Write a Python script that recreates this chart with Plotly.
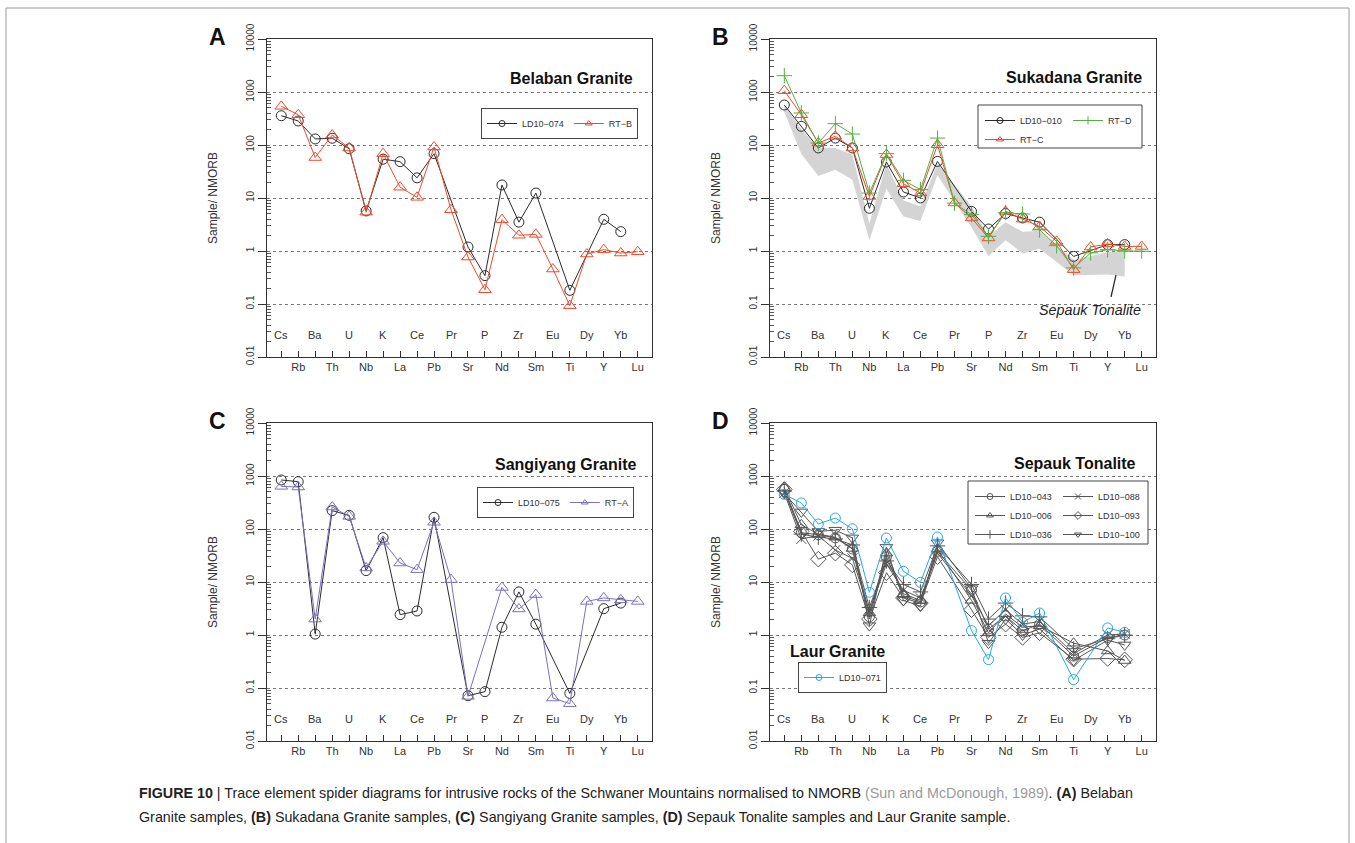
import plotly.graph_objects as go

W, H = 1355, 843
FONT = "Liberation Sans, Arial, sans-serif"

# ---------------- data ----------------
ELEMENTS = ["Cs", "Rb", "Ba", "Th", "U", "Nb", "K", "La", "Ce", "Pb", "Pr",
            "Sr", "P", "Nd", "Zr", "Sm", "Eu", "Ti", "Dy", "Y", "Yb", "Lu"]
N = None

# Panel A - Belaban Granite
A_LD10_074 = [357, 284, 130, 134, 85, 5.7, 54, 48.5, 24, 68.6, N, 1.19, 0.343, 17.6, 3.5, 12.4, N, 0.181, N, 3.96, 2.32, N]
A_RT_B = [537, 373, 58, 154, 88, 5.4, 68.6, 16, 10.3, 91.6, 6.0, 0.77, 0.186, 3.9, 1.98, 2.06, 0.457, 0.093, 0.877, 1.06, 0.916, 0.97]

# Panel B - Sukadana Granite
B_LD10_010 = [569, 225, 88, 135, 88, 6.4, 47.8, 13, 10, 49, N, 5.6, 2.6, 5.1, 4.2, 3.5, N, 0.79, N, 1.32, 1.32, N]
B_RT_C = [1060, 373, 109, 146, 88, 10.7, 66, 18.6, 12.4, 101, 8.05, 4.2, 1.76, 5.6, 4.0, 2.9, 1.52, 0.445, 1.19, 1.36, 1.22, 1.22]
B_RT_D = [2030, 402, 109, 253, 161, 12.4, 68.6, 21.5, 14.4, 135, 8.0, 4.85, 1.89, 5.3, 5.0, 2.5, 1.26, 0.48, 0.92, 1.06, 1.0, 0.99]
# Sepauk Tonalite field (grey envelope)
B_SEPAUK_MAX = [560, 200, 88, 88, 66, 3.3, 45, 9, 7, 45, N, 7, 1.9, 3.5, 2.3, 2.4, N, 0.68, N, 0.95, 1.0, N]
B_SEPAUK_MIN = [420, 68, 26, 34, 22, 1.6, 15, 4.5, 3.7, 27, N, 2.8, 0.8, 1.6, 0.9, 1.1, N, 0.35, N, 0.36, 0.33, N]

# Panel C - Sangiyang Granite
C_LD10_075 = [841, 782, 1.04, 222, 181, 16.4, 68.6, 2.42, 2.84, 166, N, 0.0716, 0.0853, 1.4, 6.5, 1.6, N, 0.079, N, 3.14, 4.0, N]
C_RT_A = [638, 620, 2.0, 260, 173, 18.4, 58.5, 22.8, 17.1, 134, 11.1, 0.0695, N, 7.9, 3.1, 5.8, 0.0647, 0.0506, 4.3, 5.0, 4.6, 4.3]

# Panel D - Sepauk Tonalite and Laur Granite
D_LD10_043 = [560, 85, 78, 68, 42, 2.2, 30, 5.5, 4.2, 38, N, 7.0, 1.3, 2.3, 1.2, 1.6, N, 0.40, N, 0.90, 1.0, N]
D_LD10_006 = [600, 120, 80, 70, 43, 2.6, 35, 6.0, 4.5, 42, N, 4.5, 1.1, 2.5, 1.4, 1.5, N, 0.70, N, 0.50, 0.33, N]
D_LD10_036 = [520, 80, 70, 65, 50, 3.3, 25, 9.0, 6.5, 48, N, 9.0, 2.0, 4.0, 2.3, 2.2, N, 0.55, N, 0.85, 1.0, N]
D_LD10_088 = [480, 65, 75, 40, 28, 2.8, 22, 7.0, 5.0, 35, N, 5.5, 1.5, 3.0, 1.6, 1.8, N, 0.45, N, 1.0, 1.05, N]
D_LD10_093 = [560, 90, 27, 35, 21, 2.0, 15, 5.0, 4.0, 30, N, 3.0, 0.9, 1.6, 0.9, 1.1, N, 0.35, N, 0.36, 0.34, N]
D_LD10_100 = [470, 210, 90, 95, 68, 1.5, 45, 4.5, 3.5, 55, N, 7.5, 0.7, 2.0, 1.0, 1.3, N, 0.33, N, 0.80, 0.65, N]
D_LD10_071 = [450, 310, 124, 161, 101, 6.4, 67.6, 15.9, 9.86, 70.6, N, 1.21, 0.343, 5.0, 1.73, 2.6, N, 0.144, N, 1.36, 1.12, N]

Y_TICKS = [0.01, 0.1, 1, 10, 100, 1000, 10000]
Y_TICK_TEXT = ["0.01", "0.1", "1", "10", "100", "1000", "10000"]

# ---------------- colours ----------------
BLACK = "#2b2b2b"
RED = "#EE4A2C"
GREEN = "#55B13E"
PURPLE = "#7A70C0"
BLUE = "#2AA8E0"
GREY = "#555555"


def fx(p):
    return p / W


def fy(p):
    return 1 - p / H


# panel: (axis suffix, letter, x0, x1, y0, y1 in px)
PANELS = [
    ("", "A", 267, 652, 39, 357),
    ("2", "B", 770, 1156, 39, 357),
    ("3", "C", 267, 652, 423, 741),
    ("4", "D", 770, 1156, 423, 741),
]

fig = go.Figure()
XS = list(range(len(ELEMENTS)))


def add_series(sfx, vals, name, color, symbol, size, legend):
    fig.add_trace(go.Scatter(
        x=XS, y=vals, mode="lines+markers", connectgaps=True,
        line=dict(color=color, width=1),
        marker=dict(symbol=symbol, size=size, color=color, line=dict(color=color, width=1)),
        xaxis="x" + sfx, yaxis="y" + sfx, showlegend=False, hoverinfo="skip"))
    fig.add_trace(go.Scatter(
        x=[None], y=[None], mode="lines+markers", name=name,
        line=dict(color=color, width=1),
        marker=dict(symbol=symbol, size=6, color=color, line=dict(color=color, width=1)),
        xaxis="x" + sfx, yaxis="y" + sfx, showlegend=True, legend=legend))


# grey Sepauk field in panel B
band_idx = [i for i, v in enumerate(B_SEPAUK_MAX) if v is not None]
band_x = band_idx + band_idx[::-1]
band_y = [B_SEPAUK_MAX[i] for i in band_idx] + [B_SEPAUK_MIN[i] for i in band_idx[::-1]]
fig.add_trace(go.Scatter(x=band_x, y=band_y, mode="lines", fill="toself",
                         fillcolor="#d4d4d4", line=dict(width=0, color="#d4d4d4"),
                         xaxis="x2", yaxis="y2", showlegend=False, hoverinfo="skip"))

add_series("", A_LD10_074, "LD10\u2212074", BLACK, "circle-open", 10, "legend")
add_series("", A_RT_B, "RT\u2212B", RED, "triangle-up-open", 11, "legend")

add_series("2", B_LD10_010, "LD10\u2212010", BLACK, "circle-open", 10, "legend2")
add_series("2", B_RT_C, "RT\u2212C", RED, "triangle-up-open", 11, "legend2")
add_series("2", B_RT_D, "RT\u2212D", GREEN, "cross-thin-open", 11, "legend3")

add_series("3", C_LD10_075, "LD10\u2212075", BLACK, "circle-open", 10, "legend4")
add_series("3", C_RT_A, "RT\u2212A", PURPLE, "triangle-up-open", 11, "legend4")

add_series("4", D_LD10_043, "LD10\u2212043", GREY, "circle-open", 10, "legend5")
add_series("4", D_LD10_006, "LD10\u2212006", GREY, "triangle-up-open", 11, "legend5")
add_series("4", D_LD10_036, "LD10\u2212036", GREY, "cross-thin-open", 11, "legend5")
add_series("4", D_LD10_088, "LD10\u2212088", GREY, "x-thin-open", 10, "legend6")
add_series("4", D_LD10_093, "LD10\u2212093", GREY, "diamond-open", 12, "legend6")
add_series("4", D_LD10_100, "LD10\u2212100", GREY, "triangle-down-open", 11, "legend6")
add_series("4", D_LD10_071, "LD10\u2212071", BLUE, "circle-open", 10, "legend7")

MINOR = [m * 10 ** e for e in range(-2, 4) for m in range(2, 10)]

layout = dict(
    width=W, height=H, margin=dict(l=0, r=0, t=0, b=0, autoexpand=False),
    paper_bgcolor="white", plot_bgcolor="white",
    font=dict(family=FONT, size=11, color="#333"),
    showlegend=True,
)
shapes = []
annotations = []

for sfx, letter, x0, x1, y0, y1 in PANELS:
    layout["xaxis" + sfx] = dict(
        domain=[fx(x0), fx(x1)], anchor="y" + sfx, range=[-0.84, 21.84],
        tickmode="array", tickvals=XS,
        ticktext=[e if i % 2 == 1 else "" for i, e in enumerate(ELEMENTS)],
        ticks="inside", ticklen=6, tickcolor="#333", tickwidth=1,
        showline=True, linecolor="#333", linewidth=1, mirror=True, automargin=False,
        showgrid=False, zeroline=False, tickfont=dict(size=11, color="#333"),
    )
    layout["yaxis" + sfx] = dict(
        domain=[fy(y1), fy(y0)], anchor="x" + sfx, type="log", range=[-2, 4],
        tickmode="array", tickvals=Y_TICKS, ticktext=Y_TICK_TEXT, tickangle=-90,
        ticks="outside", ticklen=8, tickcolor="#333", tickwidth=1,
        showline=True, linecolor="#333", linewidth=1, mirror=True, automargin=False,
        showgrid=True, gridcolor="#777", griddash="dot", gridwidth=1,
        zeroline=False, tickfont=dict(size=10, color="#333"),
        minor=dict(tickmode="array", tickvals=MINOR, ticks="inside", ticklen=4,
                   tickcolor="#555", tickwidth=1, showgrid=False),
    )
    # solid line at 1
    shapes.append(dict(type="line", xref="x" + sfx + " domain", x0=0, x1=1,
                       yref="y" + sfx, y0=0, y1=0, line=dict(color="#333", width=1.3)))
    # even element labels sit inside the plot above the axis
    for i in range(0, len(ELEMENTS), 2):
        annotations.append(dict(x=i, xref="x" + sfx, y=14 / 318, yref="y" + sfx + " domain",
                                text=ELEMENTS[i], showarrow=False, xanchor="center",
                                font=dict(size=11, color="#333")))
    # panel letter
    annotations.append(dict(x=fx(x0 - 50), y=fy(y0 - 2), xref="paper", yref="paper",
                            xanchor="center", yanchor="middle",
                            text="<b>" + letter + "</b>", showarrow=False,
                            font=dict(family=FONT, size=23, color="#111")))
    # y title
    annotations.append(dict(x=fx(x0 - 54), y=fy((y0 + y1) / 2), xref="paper", yref="paper",
                            xanchor="center", yanchor="middle",
                            text="Sample/ NMORB", textangle=-90, showarrow=False,
                            font=dict(size=12, color="#333")))

TITLES = [("Belaban Granite", 635, 78), ("Sukadana Granite", 1144, 77),
          ("Sangiyang Granite", 638, 464), ("Sepauk Tonalite", 1138, 463)]
for t, px, py in TITLES:
    annotations.append(dict(x=fx(px), y=fy(py), xref="paper", yref="paper",
                            xanchor="right", yanchor="middle",
                            text="<b>" + t + "</b>", showarrow=False,
                            font=dict(family=FONT, size=16, color="#111")))
annotations.append(dict(x=fx(788), y=fy(651), xref="paper", yref="paper",
                        xanchor="left", yanchor="middle",
                        text="<b>Laur Granite</b>", showarrow=False,
                        font=dict(family=FONT, size=16, color="#111")))
annotations.append(dict(x=fx(1143), y=fy(310), xref="paper", yref="paper",
                        xanchor="right", yanchor="middle",
                        text="<i>Sepauk Tonalite</i>", showarrow=False,
                        font=dict(family=FONT, size=14.3, color="#222")))
shapes.append(dict(type="line", xref="paper", yref="paper", x0=fx(1116), y0=fy(275),
                   x1=fx(1111), y1=fy(297), line=dict(color="#222", width=1.2)))

# legend boxes for two-column legends
shapes.append(dict(type="rect", xref="paper", yref="paper", x0=fx(978), x1=fx(1142),
                   y0=fy(105), y1=fy(148), line=dict(color="#444", width=1), fillcolor="white",
                   layer="above"))
shapes.append(dict(type="rect", xref="paper", yref="paper", x0=fx(968), x1=fx(1148),
                   y0=fy(481), y1=fy(544), line=dict(color="#444", width=1), fillcolor="white",
                   layer="above"))

# caption
annotations.append(dict(
    x=fx(137), y=fy(793), xref="paper", yref="paper", xanchor="left", yanchor="middle",
    showarrow=False,
    text="<b>FIGURE 10</b> | Trace element spider diagrams for intrusive rocks of the Schwaner "
         "Mountains normalised to NMORB <span style='color:#9a9a9a'>(Sun and McDonough, 1989)</span>. "
         "<b>(A)</b> Belaban",
    font=dict(family=FONT, size=14.3, color="#222")))
annotations.append(dict(
    x=fx(137), y=fy(817), xref="paper", yref="paper", xanchor="left", yanchor="middle",
    showarrow=False,
    text="Granite samples, <b>(B)</b> Sukadana Granite samples, <b>(C)</b> Sangiyang Granite samples, "
         "<b>(D)</b> Sepauk Tonalite samples and Laur Granite sample.",
    font=dict(family=FONT, size=14.3, color="#222")))

# figure frame
shapes.append(dict(type="rect", xref="paper", yref="paper", x0=fx(6), x1=fx(1349),
                   y0=fy(860), y1=fy(8), line=dict(color="#9a9a9a", width=1)))

LEG_FONT = dict(family=FONT, size=9, color="#333")
base_leg = dict(font=LEG_FONT, yanchor="top", itemwidth=30,
                tracegroupgap=0, itemclick=False, itemdoubleclick=False)
layout["legend"] = dict(base_leg, x=fx(638), y=fy(108), xanchor="right", orientation="h",
                        bordercolor="#444", borderwidth=1, bgcolor="white")
layout["legend2"] = dict(base_leg, x=fx(980), y=fy(106), xanchor="left", orientation="v",
                         borderwidth=0, bgcolor="rgba(0,0,0,0)")
layout["legend3"] = dict(base_leg, x=fx(1068), y=fy(106), xanchor="left", orientation="v",
                         borderwidth=0, bgcolor="rgba(0,0,0,0)")
layout["legend4"] = dict(base_leg, x=fx(634), y=fy(487), xanchor="right", orientation="h",
                         bordercolor="#444", borderwidth=1, bgcolor="white")
layout["legend5"] = dict(base_leg, x=fx(970), y=fy(482), xanchor="left", orientation="v",
                         borderwidth=0, bgcolor="rgba(0,0,0,0)")
layout["legend6"] = dict(base_leg, x=fx(1058), y=fy(482), xanchor="left", orientation="v",
                         borderwidth=0, bgcolor="rgba(0,0,0,0)")
layout["legend7"] = dict(base_leg, x=fx(798), y=fy(662), xanchor="left", orientation="v",
                         bordercolor="#444", borderwidth=1, bgcolor="white")

layout["shapes"] = shapes
layout["annotations"] = annotations
fig.update_layout(**layout)

fig.write_html("out.html", config={"displayModeBar": False},
               post_script="document.body.style.margin='0px';")
